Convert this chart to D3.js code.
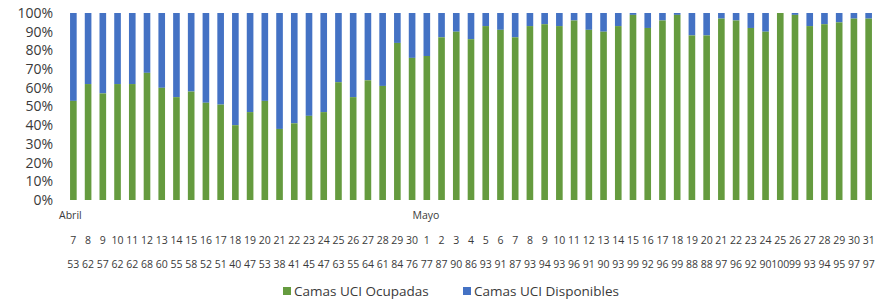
<!DOCTYPE html>
<html>
<head>
<meta charset="utf-8">
<script src="https://cdn.jsdelivr.net/npm/d3@7"></script>
<style>
  body { margin: 0; background: #fff; }
  svg text { font-family: "Open Sans", "Liberation Sans", sans-serif; fill: #3a3a3a; }
</style>
</head>
<body>
<svg id="chart" width="883" height="303"></svg>
<script>
// days and months
const days = [7,8,9,10,11,12,13,14,15,16,17,18,19,20,21,22,23,24,25,26,27,28,29,30,
  1,2,3,4,5,6,7,8,9,10,11,12,13,14,15,16,17,18,19,20,21,22,23,24,25,26,27,28,29,30,31]
const months = [{label: 'Abril', idx: 0}, {label: 'Mayo', idx: 24}]

// % occupied ICU beds
const ocupadas = [53,62,57,62,62,68,60,55,58,52,51,40,47,53,38,41,45,47,63,55,64,61,84,76,
  77,87,90,86,93,91,87,93,94,93,96,91,90,93,99,92,96,99,88,88,97,96,92,90,100,99,93,94,95,97,97]

const yTicks = [0,10,20,30,40,50,60,70,80,90,100]

const green = '#659b3f'
const blue = '#4472c4'

const svg = d3.select('#chart')

const x = d3.scaleBand()
  .domain(d3.range(days.length))
  .range([66, 876])
  .paddingInner(0.55)
  .paddingOuter(0.275)

const y = d3.scaleLinear()
  .domain([0, 100])
  .range([200, 13])

// y axis labels
svg.append('g')
  .selectAll('text')
  .data(yTicks)
  .join('text')
  .attr('x', 53)
  .attr('y', d => y(d))
  .attr('dy', '0.35em')
  .attr('text-anchor', 'end')
  .style('font-size', '14px')
  .text(d => d + '%')

const bars = svg.append('g')

// available (blue) on top of occupied
bars.selectAll('rect.disp')
  .data(ocupadas)
  .join('rect')
  .attr('class', 'disp')
  .attr('x', (d, i) => x(i))
  .attr('width', x.bandwidth())
  .attr('y', y(100))
  .attr('height', d => y(d) - y(100))
  .attr('fill', blue)

bars.selectAll('rect.ocup')
  .data(ocupadas)
  .join('rect')
  .attr('class', 'ocup')
  .attr('x', (d, i) => x(i))
  .attr('width', x.bandwidth())
  .attr('y', d => y(d))
  .attr('height', d => y(0) - y(d))
  .attr('fill', green)

// month labels
svg.append('g')
  .selectAll('text')
  .data(months)
  .join('text')
  .attr('x', d => x(d.idx) - 11)
  .attr('y', 219)
  .style('font-size', '10.5px')
  .text(d => d.label)

// day row
svg.append('g')
  .selectAll('text')
  .data(days)
  .join('text')
  .attr('x', (d, i) => x(i) + x.bandwidth() / 2)
  .attr('y', 244)
  .attr('text-anchor', 'middle')
  .style('font-size', '10.5px')
  .text(d => d)

// value row
svg.append('g')
  .selectAll('text')
  .data(ocupadas)
  .join('text')
  .attr('x', (d, i) => x(i) + x.bandwidth() / 2)
  .attr('y', 268)
  .attr('text-anchor', 'middle')
  .style('font-size', '10.5px')
  .text(d => d)

// legend
const legend = [
  {label: 'Camas UCI Ocupadas', color: green, x: 283},
  {label: 'Camas UCI Disponibles', color: blue, x: 463}
]

const lg = svg.append('g')
  .selectAll('g')
  .data(legend)
  .join('g')
  .attr('transform', d => `translate(${d.x},288)`)

lg.append('rect')
  .attr('width', 8)
  .attr('height', 8)
  .attr('y', -1)
  .attr('fill', d => d.color)

lg.append('text')
  .attr('x', 11)
  .attr('y', 3)
  .attr('dy', '0.35em')
  .style('font-size', '13.5px')
  .text(d => d.label)
</script>
</body>
</html>
